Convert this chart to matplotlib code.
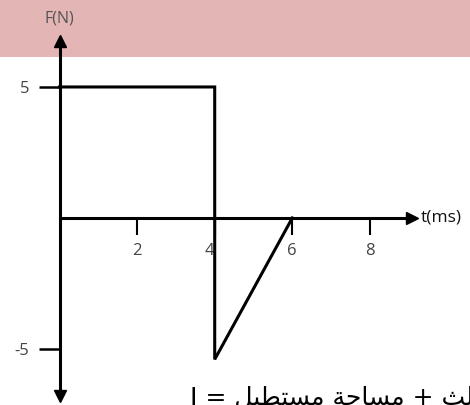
import matplotlib
matplotlib.use('Agg')
import matplotlib.pyplot as plt

plt.rcParams['font.family'] = ['Open Sans', 'DejaVu Sans']
plt.rcParams['axes.unicode_minus'] = False

# force/time graph
t_ms = [0, 4, 4, 6]
force_N = [5, 5, -5.4, 0]

x_ticks = [2, 4, 6, 8]
y_ticks = [-5, 5]
y_labels = ['-5', '5']

EQUATION = 'مساحة مثلث + مساحة مستطيل = I'

PINK = '#e4b5b5'

# arabic presentation forms: isolated, final, initial, medial
FORMS = {
    'ا': ('\ufe8d', '\ufe8e', None, None),
    'ة': ('\ufe93', '\ufe94', None, None),
    'ت': ('\ufe95', '\ufe96', '\ufe97', '\ufe98'),
    'ث': ('\ufe99', '\ufe9a', '\ufe9b', '\ufe9c'),
    'ح': ('\ufea1', '\ufea2', '\ufea3', '\ufea4'),
    'س': ('\ufeb1', '\ufeb2', '\ufeb3', '\ufeb4'),
    'ط': ('\ufec1', '\ufec2', '\ufec3', '\ufec4'),
    'ل': ('\ufedd', '\ufede', '\ufedf', '\ufee0'),
    'م': ('\ufee1', '\ufee2', '\ufee3', '\ufee4'),
    'ي': ('\ufef1', '\ufef2', '\ufef3', '\ufef4'),
}


def shape(word):
    # matplotlib does no arabic shaping, so pick the joined glyphs by hand
    if word[0] not in FORMS:
        return word
    out = []
    for i, ch in enumerate(word):
        iso, fin, ini, med = FORMS[ch]
        joins_prev = i > 0 and FORMS[word[i - 1]][2] is not None
        joins_next = i < len(word) - 1 and ini is not None
        if joins_prev and joins_next:
            out.append(med)
        elif joins_prev:
            out.append(fin)
        elif joins_next:
            out.append(ini)
        else:
            out.append(iso)
    return ''.join(reversed(out))


fig = plt.figure(figsize=(4.7, 4.05), dpi=100)
ax = fig.add_axes([0, 0, 1, 1])
ax.set_xlim(-1.534, 10.58)
ax.set_ylim(-7.14, 8.32)
ax.patch.set_visible(False)

ax.axhspan(6.15, 9, color=PINK, lw=0, zorder=0)

for side in ['top', 'right']:
    ax.spines[side].set_visible(False)
ax.spines['left'].set_position(('data', 0))
ax.spines['bottom'].set_position(('data', 0))
ax.spines['left'].set_bounds(-6.79, 6.76)
ax.spines['bottom'].set_bounds(0, 9.09)
ax.spines['left'].set_linewidth(2.2)
ax.spines['bottom'].set_linewidth(2.2)

# arrow heads
ax.plot(0, 6.76, marker='^', color='k', ms=9, clip_on=False)
ax.plot(0, -6.79, marker='v', color='k', ms=9, clip_on=False)
ax.plot(9.09, 0, marker='>', color='k', ms=9, clip_on=False)

ax.plot(t_ms, force_N, color='k', lw=2.2, solid_joinstyle='miter')

ax.set_xticks(x_ticks)
ax.set_yticks(y_ticks, labels=y_labels)
ax.tick_params(axis='x', direction='out', length=12, width=1.5, pad=6,
               labelsize=12, labelcolor='#444444')
ax.tick_params(axis='y', direction='out', length=15, width=1.8, pad=7,
               labelsize=12, labelcolor='#444444')
for lbl in ax.get_xticklabels():
    if lbl.get_text() == '4':
        lbl.set_horizontalalignment('right')

ax.text(0, 7.6, 'F(N)', ha='center', va='center', fontsize=11.5, color='#555555')
ax.text(9.3, 0, 't(ms)', ha='left', va='center', fontsize=12.5, color='#111111')

line = ' '.join(shape(w) for w in reversed(EQUATION.split()))
fig.text(190 / 470, 0.0, line, ha='left', va='baseline', fontsize=18,
         family=['DejaVu Sans'], color='k')

fig.savefig('out.png', dpi=100)
